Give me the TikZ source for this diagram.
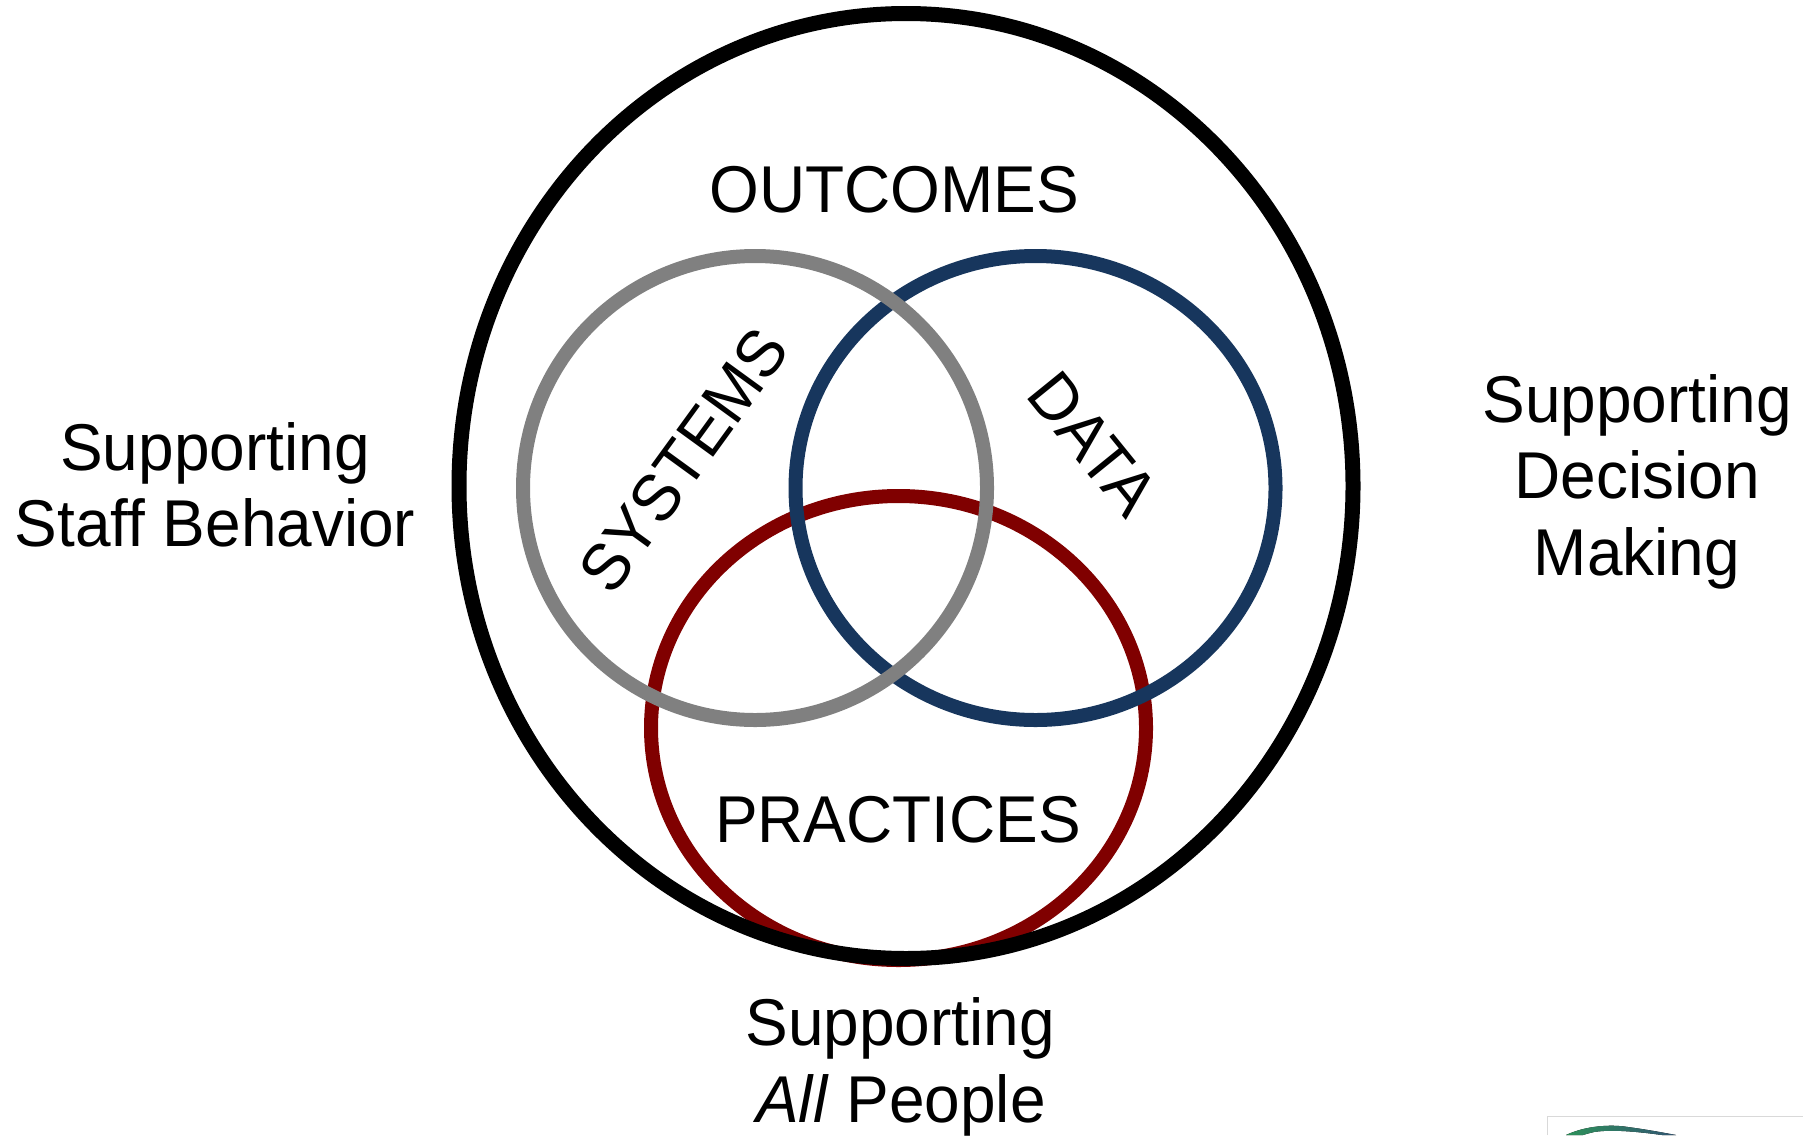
\documentclass[tikz,border=0pt]{standalone}
\usepackage{fontspec}
\setmainfont[FakeStretch=0.966]{Liberation Sans}
\definecolor{venngray}{RGB}{128,128,128}
\definecolor{vennblue}{RGB}{23,54,93}
\definecolor{vennred}{RGB}{128,0,0}
\definecolor{logogreen}{RGB}{45,145,90}
\definecolor{logoblue}{RGB}{50,85,115}
\begin{document}
\begin{tikzpicture}[x=1pt,y=-1pt,
  ring/.style={line width=14pt,fill=none},
  lbl/.style={anchor=base,align=center,inner sep=0pt,font=\fontsize{66.2}{76}\selectfont}]
\useasboundingbox (0,0) rectangle (1803,1135);
\draw[ring,vennred] (898.5,728) ellipse [x radius=247.5,y radius=232];
\draw[ring,vennblue] (1035.5,488) ellipse [x radius=240,y radius=232];
\draw[ring,venngray] (755,488) ellipse [x radius=232,y radius=232];
\draw[ring,black,line width=15pt] (906,486) ellipse [x radius=447,y radius=472.5];
\node[lbl] (outcomes) at (894.5,212.7) {OUTCOMES};
\node[lbl] (practices) at (898,842) {PRACTICES};
\node[lbl,anchor=center,rotate=54] (systems) at (683.5,460) {SYSTEMS};
\node[lbl,anchor=center,rotate=-51] (data) at (1093,444) {DATA};
\node[lbl] (staff1) at (215,470) {Supporting};
\node[lbl] (staff2) at (215,546) {Staff Behavior};
\node[lbl] (dec1) at (1637,422) {Supporting};
\node[lbl] (dec2) at (1637,498) {Decision};
\node[lbl] (dec3) at (1637,575) {Making};
\node[lbl] (all1) at (900,1045) {Supporting};
\node[lbl] (all2) at (901,1122) {\textit{All} People};
% logo corner at the lower right edge
\draw[line width=1pt,black!15] (1547,1135) -- (1547,1116.5) -- (1803,1116.5);
\fill[left color=logogreen,right color=logoblue] (1566,1135) .. controls (1585,1126) and (1610,1124) .. (1628,1127) .. controls (1650,1130) and (1665,1133) .. (1676,1135) -- (1662,1135) .. controls (1640,1132) and (1612,1129) .. (1594,1132) .. controls (1590,1133) and (1586,1134) .. (1583,1135) -- cycle;
\end{tikzpicture}
\end{document}
